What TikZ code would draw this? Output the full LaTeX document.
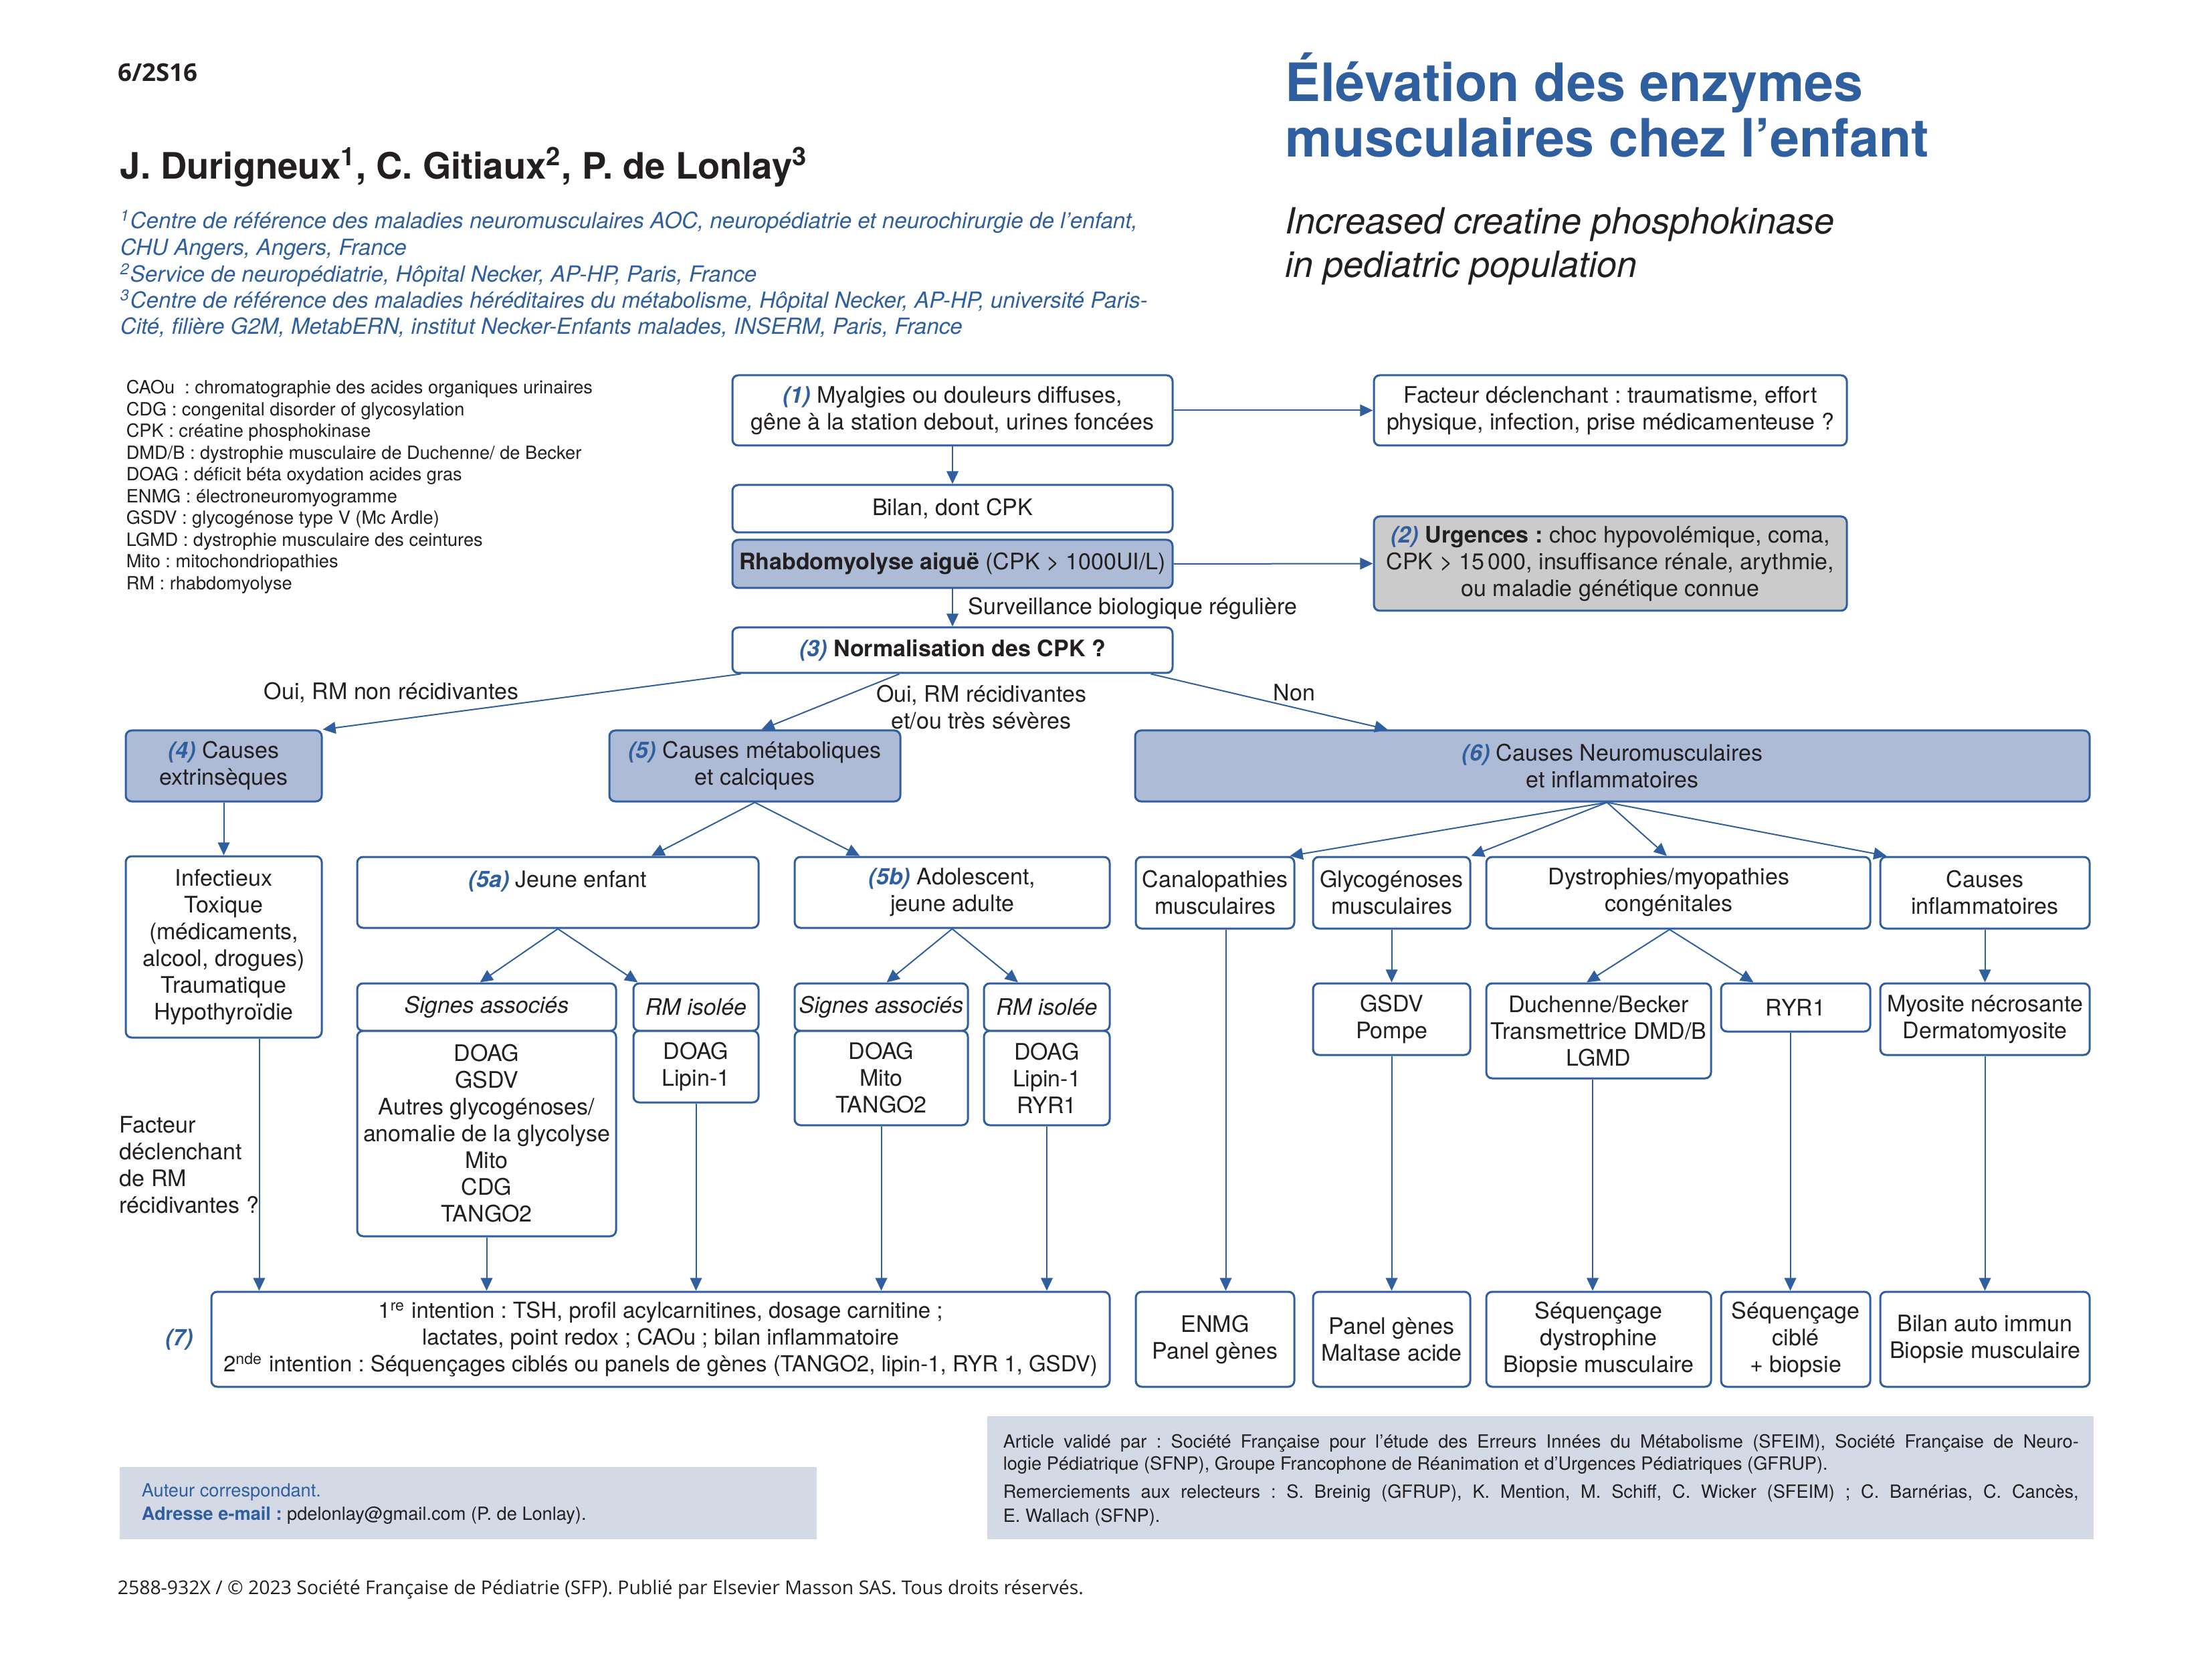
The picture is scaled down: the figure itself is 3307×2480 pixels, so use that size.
\documentclass[tikz,border=0pt]{standalone}
\usepackage{fontspec}
\setmainfont{TeX Gyre Heros}
\newfontfamily\opensans{Open Sans}
\usetikzlibrary{arrows.meta,calc}
\frenchspacing
\definecolor{sfpblue}{HTML}{2F5F9F}
\definecolor{boxfill}{HTML}{AEBBD6}
\definecolor{urgfill}{HTML}{CBCBCB}
\definecolor{footfill}{HTML}{D3D9E5}
\definecolor{ink}{HTML}{231F20}
\newcommand{\bnum}[1]{\textcolor{sfpblue}{\bfseries\itshape #1}}
\newcommand{\bodyfont}{\fontsize{8.5}{10}\selectfont}
\newcommand{\smallfont}{\fontsize{6.8}{8.1}\selectfont}
% box from pixel corners: [style]{x1}{y1}{x2}{y2}{name}{text}
\newcommand{\bx}[7][box]{\node[#1, minimum width={(#4-#2)*0.25pt}, minimum height={(#5-#3)*0.25pt}] (#6) at ({(#2+#4)/2},{(#3+#5)/2}) {#7};}
\begin{document}
\begin{tikzpicture}[x=0.25pt,y=-0.25pt,
  box/.style={draw=sfpblue, line width=0.75pt, rounded corners=2.2pt, fill=white, inner sep=0pt, align=center, text=ink, font=\bodyfont},
  hbox/.style={box, fill=boxfill},
  gbox/.style={box, fill=urgfill},
  fbox/.style={fill=footfill, inner sep=0pt},
  arr/.style={draw=sfpblue, line width=0.5pt, -{Triangle[length=4.8pt,width=4.4pt]}},
  lbl/.style={inner sep=0pt, text=ink, font=\bodyfont, align=center},
  leg/.style={inner sep=0pt, text=ink, font=\smallfont, anchor=base west},
  aff/.style={inner sep=0pt, text=sfpblue, font=\fontsize{8.3}{10}\selectfont\itshape, anchor=base west}]
\fill[white] (0,0) rectangle (3307,2480);
\useasboundingbox (0,0) rectangle (3307,2480);

% ---------- header ----------
\node[inner sep=0pt, anchor=base west, text=ink] (code) at (176,122) {\resizebox{29.75pt}{!}{\opensans\bfseries 6/2S16}};
\node[inner sep=0pt, anchor=base west, text=ink, font=\fontsize{13.6}{16}\selectfont\bfseries] (auth) at (179,268)
  {J. Durigneux\textsuperscript{1}, C. Gitiaux\textsuperscript{2}, P. de Lonlay\textsuperscript{3}};
\node[aff] (aff1) at (179,342) {\textsuperscript{1}Centre de référence des maladies neuromusculaires AOC, neuropédiatrie et neurochirurgie de l’enfant,};
\node[aff] (aff2) at (179,382) {CHU Angers, Angers, France};
\node[aff] (aff3) at (179,422) {\textsuperscript{2}Service de neuropédiatrie, Hôpital Necker, AP-HP, Paris, France};
\node[aff] (aff4) at (179,461) {\textsuperscript{3}Centre de référence des maladies héréditaires du métabolisme, Hôpital Necker, AP-HP, université Paris-};
\node[aff] (aff5) at (179,500) {Cité, filière G2M, MetabERN, institut Necker-Enfants malades, INSERM, Paris, France};

\node[inner sep=0pt, anchor=base west, text=sfpblue, font=\fontsize{19.75}{21}\selectfont\bfseries] (tit1) at (1921,152) {Élévation des enzymes};
\node[inner sep=0pt, anchor=base west, text=sfpblue, font=\fontsize{19.75}{21}\selectfont\bfseries] (tit2) at (1921,235) {musculaires chez l’enfant};
\node[inner sep=0pt, anchor=base west, text=ink, font=\fontsize{13.5}{15}\selectfont\itshape] (sub1) at (1921,350) {Increased creatine phosphokinase};
\node[inner sep=0pt, anchor=base west, text=ink, font=\fontsize{13.5}{15}\selectfont\itshape] (sub2) at (1921,415) {in pediatric population};

% ---------- legend ----------
\node[leg] (g1) at (188,589) {CAOu\ \ : chromatographie des acides organiques urinaires};
\node[leg] (g2) at (188,621.5) {CDG : congenital disorder of glycosylation};
\node[leg] (g3) at (188,654) {CPK : créatine phosphokinase};
\node[leg] (g4) at (188,686.5) {DMD/B : dystrophie musculaire de Duchenne/ de Becker};
\node[leg] (g5) at (188,719) {DOAG : déficit béta oxydation acides gras};
\node[leg] (g6) at (188,751.5) {ENMG : électroneuromyogramme};
\node[leg] (g7) at (188,784) {GSDV : glycogénose type V (Mc Ardle)};
\node[leg] (g8) at (188,816.5) {LGMD : dystrophie musculaire des ceintures};
\node[leg] (g9) at (188,849) {Mito : mitochondriopathies};
\node[leg] (g10) at (188,881.5) {RM : rhabdomyolyse};

% ---------- top chain ----------
\bx{1095}{561}{1753}{666}{n1}{\bnum{(1)} Myalgies ou douleurs diffuses,\\gêne à la station debout, urines foncées}
\bx{2054}{561}{2761}{666}{fact}{Facteur déclenchant : traumatisme, effort\\physique, infection, prise médicamenteuse ?}
\bx{1095}{725}{1753}{796}{bilan}{Bilan, dont CPK}
\bx[hbox]{1095}{807}{1753}{879}{rhab}{\textbf{Rhabdomyolyse aiguë} (CPK > 1000UI/L)}
\bx[gbox]{2054}{772}{2761}{913}{urg}{\bnum{(2)} \textbf{Urgences :} choc hypovolémique, coma,\\CPK > 15\,000, insuffisance rénale, arythmie,\\ou maladie génétique connue}
\bx{1095}{938}{1753}{1006}{n3}{\bnum{(3)} \textbf{Normalisation des CPK ?}}

% ---------- level 2 ----------
\bx[hbox]{188}{1092}{481}{1198}{n4}{\bnum{(4)} Causes\\extrinsèques}
\bx[hbox]{911}{1092}{1346}{1198}{n5}{\bnum{(5)} Causes métaboliques\\et calciques}
\bx[hbox]{1697}{1092}{3124}{1198}{n6}{\bnum{(6)} Causes Neuromusculaires\\et inflammatoires}

% ---------- left / middle branch ----------
\bx{188}{1280}{481}{1551}{infect}{Infectieux\\Toxique\\(médicaments,\\alcool, drogues)\\Traumatique\\Hypothyroïdie}
\bx{534}{1281}{1134}{1387}{n5a}{\bnum{(5a)} Jeune enfant\\\mbox{}}
\bx{1188}{1281}{1659}{1387}{n5b}{\bnum{(5b)} Adolescent,\\jeune adulte}
\bx{534}{1470}{921}{1541}{sa1}{\textit{Signes associés}}
\bx{534}{1541}{921}{1848}{sa1c}{DOAG\\GSDV\\Autres glycogénoses/\\anomalie de la glycolyse\\Mito\\CDG\\TANGO2}
\bx{947}{1470}{1134}{1541}{ri1}{\textit{RM isolée}}
\bx{947}{1541}{1134}{1648}{ri1c}{DOAG\\Lipin-1}
\bx{1188}{1470}{1447}{1541}{sa2}{\textit{Signes associés}}
\bx{1188}{1541}{1447}{1682}{sa2c}{DOAG\\Mito\\TANGO2}
\bx{1471}{1470}{1659}{1541}{ri2}{\textit{RM isolée}}
\bx{1471}{1541}{1659}{1682}{ri2c}{DOAG\\Lipin-1\\RYR1}
\bx[box, font=\fontsize{8.25}{10}\selectfont]{316}{1931}{1659}{2073}{n7}{1\textsuperscript{re} intention : TSH, profil acylcarnitines, dosage carnitine ;\\lactates, point redox ; CAOu ; bilan inflammatoire\\2\textsuperscript{nde} intention : Séquençages ciblés ou panels de gènes (TANGO2, lipin-1, RYR 1, GSDV)}
\node[lbl] (l7) at (268,2002) {\bnum{(7)}};

% ---------- right branch ----------
\bx{1698}{1281}{1935}{1388}{canal}{Canalopathies\\musculaires}
\bx{1963}{1281}{2198}{1388}{glyco}{Glycogénoses\\musculaires}
\bx{2222}{1281}{2796}{1388}{dys}{}
\node[lbl] (dyst) at (2495,1334) {Dystrophies/myopathies\\congénitales};
\bx{2811}{1281}{3124}{1388}{infl}{Causes\\inflammatoires}
\bx{1963}{1470}{2198}{1577}{gsdv}{GSDV\\Pompe}
\bx{2222}{1470}{2558}{1612}{duch}{Duchenne/Becker\\Transmettrice DMD/B\\LGMD}
\bx{2573}{1470}{2796}{1542}{ryr}{RYR1}
\bx{2811}{1470}{3124}{1577}{myo}{Myosite nécrosante\\Dermatomyosite}
\bx{1698}{1931}{1935}{2073}{enmg}{ENMG\\Panel gènes}
\bx{1963}{1931}{2198}{2073}{panel}{Panel gènes\\Maltase acide}
\bx{2222}{1931}{2558}{2073}{seqd}{Séquençage\\dystrophine\\Biopsie musculaire}
\bx{2573}{1931}{2796}{2073}{seqc}{Séquençage\\ciblé\\+ biopsie}
\bx{2811}{1931}{3124}{2073}{bai}{Bilan auto immun\\Biopsie musculaire}

% ---------- labels ----------
\node[lbl, anchor=west] (surv) at (1447,910) {Surveillance biologique régulière};
\node[lbl] (lnon) at (585,1035) {Oui, RM non récidivantes};
\node[lbl] (lrec) at (1467,1057) {Oui, RM récidivantes\\et/ou très sévères};
\node[lbl] (lno) at (1935,1035) {Non};
\node[lbl, anchor=west, align=left] (lfact) at (178,1741) {Facteur\\déclenchant\\de RM\\récidivantes ?};

% ---------- connectors ----------
\draw[arr] (n1.east) -- (fact.west);
\draw[arr] (n1.south) -- (bilan.north);
\draw[arr] (rhab.east) -- (urg.west);
\draw[arr] (rhab.south) -- (n3.north);
\draw[arr] ($(n3.south west)+(14,0)$) -- (n4.north east);
\draw[arr] ($(n3.south west)+(251,0)$) -- ($(n5.north)+(10,0)$);
\draw[arr] ($(n3.south east)+(-34,0)$) -- ($(n6.north west)+(379,0)$);
\draw[arr] (n4.south) -- (infect.north);
\draw[arr] (n5.south) -- ($(n5a.north)+(140,0)$);
\draw[arr] (n5.south) -- ($(n5b.north)+(-138,0)$);
\draw[arr] (n5a.south) -- ($(sa1.north)+(-10,0)$);
\draw[arr] (n5a.south) -- ($(ri1.north)+(-87,0)$);
\draw[arr] (n5b.south) -- ($(sa2.north)+(8,0)$);
\draw[arr] (n5b.south) -- ($(ri2.north)+(-43,0)$);
\draw[arr] ($(infect.south)+(53,0)$) coordinate (ia) -- (ia |- n7.north);
\draw[arr] (sa1c.south) -- (sa1c.south |- n7.north);
\draw[arr] (ri1c.south) -- (ri1c.south |- n7.north);
\draw[arr] (sa2c.south) -- (sa2c.south |- n7.north);
\draw[arr] (ri2c.south) -- (ri2c.south |- n7.north);
\draw[arr] ($(n6.south)+(-8,0)$) -- ($(canal.north east)+(-8,0)$);
\draw[arr] ($(n6.south)+(-8,0)$) -- (glyco.north east);
\draw[arr] ($(n6.south)+(-8,0)$) -- ($(dys.north)+(-17,0)$);
\draw[arr] ($(n6.south)+(-8,0)$) -- ($(infl.north west)+(11,0)$);
\draw[arr] (glyco.south) -- (gsdv.north);
\draw[arr] ($(dys.south)+(-13,0)$) -- ($(duch.north)+(-18,0)$);
\draw[arr] ($(dys.south)+(-13,0)$) -- ($(ryr.north)+(-63,0)$);
\draw[arr] (infl.south) -- (myo.north);
\draw[arr] ($(canal.south)+(16,0)$) coordinate (ca) -- (ca |- enmg.north);
\draw[arr] (gsdv.south) -- (panel.north);
\draw[arr] ($(duch.south)+(-9,0)$) coordinate (du) -- (du |- seqd.north);
\draw[arr] ($(ryr.south)+(-8,0)$) coordinate (ry) -- (ry |- seqc.north);
\draw[arr] (myo.south) -- (bai.north);

% ---------- footer ----------
\bx[fbox]{179}{2193}{1221}{2301}{auteur}{}
\node[leg, text=sfpblue] (aut1) at (211,2237) {Auteur correspondant.};
\node[leg] (aut2) at (211,2272) {\textcolor{sfpblue}{\bfseries Adresse e-mail :} pdelonlay@gmail.com (P. de Lonlay).};
\bx[fbox]{1476}{2117}{3130}{2301}{valid}{}
\node[leg] (v1) at (1499,2164) {\makebox[402pt][s]{Article validé par : Société Française pour l’étude des Erreurs Innées du Métabolisme (SFEIM), Société Française de Neuro-}};
\node[leg] (v2) at (1499,2197) {logie Pédiatrique (SFNP), Groupe Francophone de Réanimation et d’Urgences Pédiatriques (GFRUP).};
\node[leg] (v3) at (1499,2239) {\makebox[402pt][s]{Remerciements aux relecteurs : S. Breinig (GFRUP), K. Mention, M. Schiff, C. Wicker (SFEIM) ; C. Barnérias, C. Cancès,}};
\node[leg] (v4) at (1499,2275) {E. Wallach (SFNP).};
\node[inner sep=0pt, anchor=base west, text=ink] (copy) at (175,2383) {\resizebox{361pt}{!}{\opensans 2588-932X / © 2023 Société Française de Pédiatrie (SFP). Publié par Elsevier Masson SAS. Tous droits réservés.}};
\end{tikzpicture}
\end{document}
